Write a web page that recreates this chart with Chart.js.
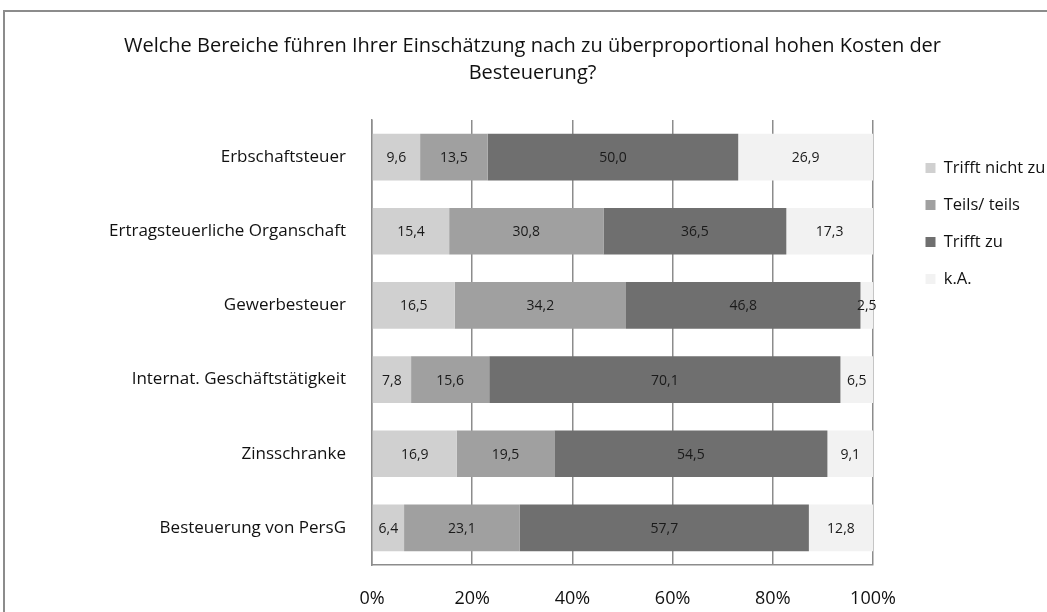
<!DOCTYPE html>
<html>
<head>
<meta charset="utf-8">
<script src="https://cdn.jsdelivr.net/npm/chart.js@4/dist/chart.umd.min.js"></script>
<style>
  body { margin: 0; background: #fff; }
  #frame { position: absolute; left: 3px; top: 10px; width: 1100px; height: 700px;
           border-left: 2px solid #8c8c8c; border-top: 2px solid #8c8c8c; }
  #wrap { position: absolute; left: 0; top: 0; width: 1047px; height: 612px; }
</style>
</head>
<body>
<div id="frame"></div>
<div id="wrap"><canvas id="taxChart"></canvas></div>
<script>
const categories = ['Erbschaftsteuer', 'Ertragsteuerliche Organschaft', 'Gewerbesteuer',
    'Internat. Geschäftstätigkeit', 'Zinsschranke', 'Besteuerung von PersG'];
const trifftNicht = [9.6, 15.4, 16.5, 7.8, 16.9, 6.4];
const teilsTeils = [13.5, 30.8, 34.2, 15.6, 19.5, 23.1];
const trifftZu = [50.0, 36.5, 46.8, 70.1, 54.5, 57.7];
const keineAngabe = [26.9, 17.3, 2.5, 6.5, 9.1, 12.8];
const xTicks = [0, 20, 40, 60, 80, 100];

// values written in the middle of each bar segment
const barLabels = {
    id: 'barLabels',
    afterDatasetsDraw(chart) {
        const ctx = chart.ctx;
        ctx.save();
        ctx.font = '14px "Open Sans"';
        ctx.fillStyle = '#1a1a1a';
        ctx.textAlign = 'center';
        ctx.textBaseline = 'middle';
        chart.data.datasets.forEach((ds, i) => {
            chart.getDatasetMeta(i).data.forEach((bar, j) => {
                const p = bar.getProps(['x', 'y', 'base'], true);
                ctx.fillText(ds.data[j].toFixed(1).replace('.', ','), (p.x + p.base) / 2, p.y + 1);
            });
        });
        ctx.restore();
    }
};

// legend sits with a gap to the right of the plot
const legendGap = {
    id: 'legendGap',
    afterLayout(chart) {
        const lg = chart.legend;
        const shift = 905 - lg.left;
        lg.left += shift;
        lg.right += shift;
    }
};

const ctx = document.getElementById('taxChart').getContext('2d');
new Chart(ctx, {
    type: 'bar',
    data: {
        labels: categories,
        datasets: [
            { label: 'Trifft nicht zu', data: trifftNicht, backgroundColor: '#d0d0d0' },
            { label: 'Teils/ teils', data: teilsTeils, backgroundColor: '#a0a0a0' },
            { label: 'Trifft zu', data: trifftZu, backgroundColor: '#6f6f6f' },
            { label: 'k.A.', data: keineAngabe, backgroundColor: '#f2f2f2' }
        ]
    },
    options: {
        indexAxis: 'y',
        responsive: true,
        maintainAspectRatio: false,
        animation: false,
        categoryPercentage: 1,
        barPercentage: 0.63,
        layout: { padding: { left: 18, right: 0, top: 0, bottom: 0 } },
        scales: {
            x: {
                stacked: true,
                min: 0,
                max: 100,
                afterBuildTicks: (scale) => { scale.ticks = xTicks.map(v => ({ value: v })); },
                // paddingRight is measured from the canvas edge, past the legend
                afterFit: (scale) => { scale.height = 47; scale.paddingRight = 174; },
                ticks: {
                    callback: (v) => v + '%',
                    color: '#111',
                    font: { family: 'Open Sans', size: 18 },
                    padding: 23,
                    maxRotation: 0
                },
                grid: { color: '#8c8c8c', lineWidth: 1.5, drawTicks: false },
                border: { color: '#8c8c8c', width: 1.5 }
            },
            y: {
                stacked: true,
                afterFit: (scale) => { scale.width = 354; },
                ticks: {
                    color: '#111',
                    font: { family: 'Open Sans', size: 17 },
                    padding: 26
                },
                grid: { display: false, drawTicks: false },
                border: { color: '#8c8c8c', width: 1.5 }
            }
        },
        plugins: {
            title: {
                display: true,
                text: ['Welche Bereiche führen Ihrer Einschätzung nach zu überproportional hohen Kosten der',
                       'Besteuerung?'],
                color: '#111',
                font: { family: 'Open Sans', size: 20, weight: 'normal', lineHeight: 1.35 },
                padding: { top: 32.5, bottom: 33.5 }
            },
            legend: {
                position: 'right',
                align: 'start',
                title: { display: true, text: ' ', font: { size: 10, lineHeight: 1.2 }, padding: { top: 127.25, bottom: 0 } },
                labels: {
                    boxWidth: 10,
                    boxHeight: 10,
                    padding: 20.5,
                    color: '#111',
                    font: { family: 'Open Sans', size: 16.5 }
                }
            },
            tooltip: { enabled: false }
        }
    },
    plugins: [barLabels, legendGap]
});
</script>
</body>
</html>
